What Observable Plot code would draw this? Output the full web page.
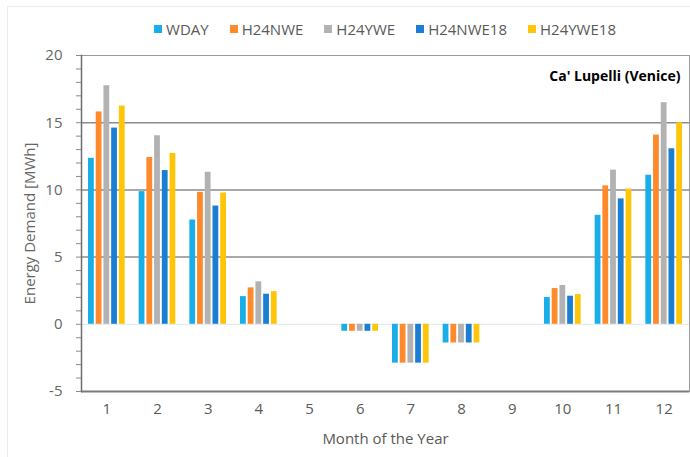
<!DOCTYPE html>
<html>
<head>
<meta charset="utf-8">
<script src="https://cdn.jsdelivr.net/npm/d3@7"></script>
<script src="https://cdn.jsdelivr.net/npm/@observablehq/plot@0.6"></script>
<style>
  html, body { margin: 0; padding: 0; background: #fff; }
  #wrap { position: relative; width: 690px; height: 457px; overflow: hidden; font-family: "Open Sans", sans-serif; }
  #border { position: absolute; left: 7px; top: 6px; width: 700px; height: 470px; border-left: 1px solid #ececec; border-top: 1px solid #ececec; }
  #legend { position: absolute; top: 19px; left: 80px; right: 0; display: flex; justify-content: center; gap: 21px; font-size: 15px; color: #595959; }
  #legend .item { display: flex; align-items: center; gap: 4px; }
  #legend .sw { width: 8px; height: 8px; display: inline-block; }
  .layer { position: absolute; left: 0; top: 0; }
</style>
</head>
<body>
<div id="wrap">
  <div id="border"></div>
  <div id="back" class="layer"></div>
  <div id="front" class="layer"></div>
  <div id="legend"></div>
</div>
<script>
const months = [1, 2, 3, 4, 5, 6, 7, 8, 9, 10, 11, 12];
const series = ["WDAY", "H24NWE", "H24YWE", "H24NWE18", "H24YWE18"];
const colors = ["#19aee8", "#ff8a2b", "#b2b2b2", "#1a7fd2", "#ffc508"];
const WDAY     = [12.35,  9.87,  7.76, 2.06, 0, -0.52, -2.89, -1.39, 0, 1.99,  8.11, 11.09];
const H24NWE   = [15.80, 12.41,  9.82, 2.71, 0, -0.52, -2.89, -1.39, 0, 2.66, 10.30, 14.08];
const H24YWE   = [17.75, 14.03, 11.31, 3.16, 0, -0.52, -2.89, -1.39, 0, 2.89, 11.47, 16.49];
const H24NWE18 = [14.60, 11.44,  8.80, 2.24, 0, -0.52, -2.89, -1.39, 0, 2.09,  9.33, 13.06];
const H24YWE18 = [16.24, 12.71,  9.77, 2.43, 0, -0.52, -2.89, -1.39, 0, 2.21, 10.07, 15.00];
const yTicks = [-5, 0, 5, 10, 15, 20];
const yMinorTicks = d3.range(-5, 21, 1);
const gridValues = [5, 10, 15];
const title = "Ca' Lupelli (Venice)";
const xLabel = "Month of the Year";
const yLabel = "Energy Demand [MWh]";

const valueArrays = [WDAY, H24NWE, H24YWE, H24NWE18, H24YWE18];
const data = months.flatMap((m, i) => series.map((s, j) => ({month: m, series: s, value: valueArrays[j][i]})));

const common = {
  width: 690,
  height: 457,
  marginLeft: 81,
  marginRight: 1,
  marginTop: 55,
  marginBottom: 66,
  style: {fontFamily: "Open Sans, sans-serif", fontSize: "15px", color: "#595959", background: "transparent"}
};
const yScale = {domain: [-5, 20], axis: null};

// Background layer: frame, grid, axes, labels (months on a band scale)
const back = Plot.plot({
  ...common,
  x: {domain: months, paddingInner: 0.2, paddingOuter: 0.1, round: false, axis: null},
  y: yScale,
  marks: [
    Plot.ruleY([0], {stroke: "#dce8f2", strokeWidth: 1}),
    Plot.ruleY(gridValues, {stroke: "#8c8c8c", strokeWidth: 1.5}),
    Plot.ruleY([20], {stroke: "#9a9a9a", strokeWidth: 1}),
    Plot.ruleY([-5], {stroke: "#7a7a7a", strokeWidth: 2}),
    Plot.frame({anchor: "right", stroke: "#9a9a9a"}),
    Plot.frame({anchor: "left", stroke: "#6e6e6e", strokeWidth: 1.5}),
    Plot.axisY(yMinorTicks, {tickSize: 5, tickFormat: () => "", stroke: "#8a8a8a", label: null}),
    Plot.axisY(yTicks, {tickSize: 0, tickPadding: 19, tickFormat: d => String(d), label: yLabel, labelAnchor: "center", labelArrow: "none", labelOffset: 57, fontSize: 15, fill: "#666"}),
    Plot.axisX(months, {tickSize: 0, tickPadding: 12, label: xLabel, labelAnchor: "center", labelArrow: "none", labelOffset: 52, fontSize: 15, fill: "#595959"}),
    Plot.text([title], {frameAnchor: "top-right", dx: -9, dy: 16, fontWeight: "bold", fontSize: 14, fill: "#000"})
  ]
});
document.getElementById("back").appendChild(back);

// Foreground layer: grouped bars faceted by month
const front = Plot.plot({
  ...common,
  fx: {domain: months, paddingInner: 0.2, paddingOuter: 0.1, round: false, axis: null, label: null},
  x: {domain: series, padding: 0.25, round: false, axis: null},
  y: yScale,
  color: {domain: series, range: colors},
  marks: [
    Plot.barY(data, {fx: "month", x: "series", y: "value", fill: "series"})
  ]
});
document.getElementById("front").appendChild(front);

const legend = document.getElementById("legend");
series.forEach((s, i) => {
  const item = document.createElement("span");
  item.className = "item";
  const sw = document.createElement("span");
  sw.className = "sw";
  sw.style.background = colors[i];
  const t = document.createElement("span");
  t.textContent = s;
  item.appendChild(sw);
  item.appendChild(t);
  legend.appendChild(item);
});
</script>
</body>
</html>
